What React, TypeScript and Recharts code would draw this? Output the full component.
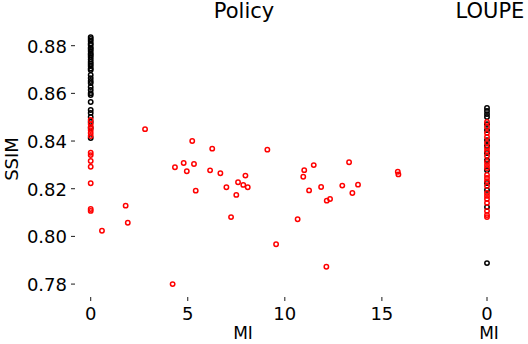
import React from "react";
import { ScatterChart, Scatter, XAxis, YAxis } from "recharts";

// Policy panel, MI > 0 and MI = 0 points
const policyRed = [
  { mi: 2.8, ssim: 0.845 }, { mi: 4.34, ssim: 0.829 }, { mi: 4.79, ssim: 0.8308 },
  { mi: 4.95, ssim: 0.8273 }, { mi: 5.23, ssim: 0.84 }, { mi: 5.32, ssim: 0.8304 },
  { mi: 5.41, ssim: 0.8192 }, { mi: 6.15, ssim: 0.8277 }, { mi: 6.26, ssim: 0.8368 },
  { mi: 6.68, ssim: 0.8265 }, { mi: 6.99, ssim: 0.8206 }, { mi: 7.5, ssim: 0.8174 },
  { mi: 7.59, ssim: 0.8227 }, { mi: 7.86, ssim: 0.8216 }, { mi: 7.97, ssim: 0.8255 },
  { mi: 8.09, ssim: 0.8206 }, { mi: 9.1, ssim: 0.8364 }, { mi: 10.95, ssim: 0.825 },
  { mi: 11.0, ssim: 0.8278 }, { mi: 11.25, ssim: 0.8193 }, { mi: 11.49, ssim: 0.8299 },
  { mi: 11.87, ssim: 0.8207 }, { mi: 12.16, ssim: 0.815 }, { mi: 12.33, ssim: 0.8157 },
  { mi: 12.96, ssim: 0.8213 }, { mi: 13.31, ssim: 0.8311 }, { mi: 13.48, ssim: 0.8182 },
  { mi: 13.77, ssim: 0.8217 }, { mi: 15.85, ssim: 0.826 }, { mi: 15.82, ssim: 0.8271 },
  { mi: 7.23, ssim: 0.8081 }, { mi: 10.66, ssim: 0.8072 }, { mi: 9.55, ssim: 0.7967 },
  { mi: 12.14, ssim: 0.7873 }, { mi: 1.8, ssim: 0.8129 }, { mi: 1.91, ssim: 0.8057 },
  { mi: 0.58, ssim: 0.8024 }, { mi: 4.22, ssim: 0.78 },
  { mi: 0, ssim: 0.8488 }, { mi: 0, ssim: 0.8471 }, { mi: 0, ssim: 0.8459 },
  { mi: 0, ssim: 0.8446 }, { mi: 0, ssim: 0.8434 }, { mi: 0, ssim: 0.8421 },
  { mi: 0, ssim: 0.8351 }, { mi: 0, ssim: 0.8341 }, { mi: 0, ssim: 0.8316 },
  { mi: 0, ssim: 0.8292 }, { mi: 0, ssim: 0.8223 }, { mi: 0, ssim: 0.8115 },
  { mi: 0, ssim: 0.8107 },
];

const policyBlackSsim = [
  0.8836, 0.8828, 0.882, 0.8809, 0.8803, 0.8792, 0.8786, 0.8778, 0.8767, 0.8761,
  0.8753, 0.8742, 0.8732, 0.8723, 0.8715, 0.8704, 0.8698, 0.8677, 0.8664, 0.8652,
  0.8643, 0.8627, 0.8614, 0.8601, 0.8593, 0.8564, 0.853, 0.8518, 0.8501, 0.848,
  0.8455, 0.8413,
];

// LOUPE panel, all at MI = 0
const loupeBlackSsim = [
  0.8539, 0.8526, 0.8513, 0.8501, 0.8471, 0.8446, 0.8404, 0.8379, 0.835, 0.832,
  0.8278, 0.8224, 0.8195, 0.8123, 0.7888,
];
const loupeRedSsim = [
  0.848, 0.8459, 0.8434, 0.8417, 0.8392, 0.8371, 0.8358, 0.8337, 0.8312, 0.8299,
  0.8287, 0.8258, 0.8245, 0.8232, 0.8211, 0.8182, 0.817, 0.8157, 0.814, 0.8107,
  0.809, 0.8081,
];

const policyTicks = [0, 5, 10, 15];
const loupeTicks = [0];
const ssimTicks = [0.78, 0.8, 0.82, 0.84, 0.86, 0.88];

const FONT = "DejaVu Sans";

const ring = (color: string) => (p: any) => (
  <circle cx={p.cx} cy={p.cy} r={2.2} fill="none" stroke={color} strokeWidth={1.5} />
);

const XTick = (props: any) => {
  const { x, y, payload } = props;
  return (
    <g>
      <line x1={x} x2={x} y1={y + 1} y2={y + 5} stroke="#000" strokeWidth={0.9} />
      <text x={x} y={y + 24} textAnchor="middle" fontSize={18} fontFamily={FONT} fill="#000">
        {payload.value}
      </text>
    </g>
  );
};

const YTick = (props: any) => {
  const { x, y, payload } = props;
  return (
    <g>
      <line x1={x - 10} x2={x - 6} y1={y} y2={y} stroke="#000" strokeWidth={0.9} />
      <text x={x - 14} y={y + 7} textAnchor="end" fontSize={18} fontFamily={FONT} fill="#000">
        {Number(payload.value).toFixed(2)}
      </text>
    </g>
  );
};

const App = () => {
  const policyBlack = policyBlackSsim.map((s) => ({ mi: 0, ssim: s }));
  const loupeBlack = loupeBlackSsim.map((s) => ({ mi: 0, ssim: s }));
  const loupeRed = loupeRedSsim.map((s) => ({ mi: 0, ssim: s }));

  return (
    <div style={{ position: "absolute", left: 0, top: 0, width: 528, height: 344, background: "#fff" }}>
      <div style={{ position: "absolute", left: 0, top: 0 }}>
        <ScatterChart width={411} height={344} margin={{ top: 29, right: 0, bottom: 0, left: 0 }}>
          <XAxis
            type="number"
            dataKey="mi"
            domain={[-0.5, 16.5]}
            ticks={policyTicks}
            height={48}
            axisLine={false}
            tickLine={false}
            tickSize={0}
            tickMargin={0}
            tick={<XTick />}
            interval={0}
          />
          <YAxis
            type="number"
            dataKey="ssim"
            domain={[0.775, 0.887]}
            ticks={ssimTicks}
            width={81}
            axisLine={false}
            tickLine={false}
            tickSize={0}
            tickMargin={0}
            tick={<YTick />}
            interval={0}
          />
          <Scatter data={policyBlack} shape={ring("#000")} isAnimationActive={false} />
          <Scatter data={policyRed} shape={ring("#ff0000")} isAnimationActive={false} />
          <text x={244} y={18} textAnchor="middle" fontSize={21} fontFamily={FONT}>Policy</text>
          <text x={243} y={339} textAnchor="middle" fontSize={17} fontFamily={FONT}>MI</text>
          <text x={18} y={159} textAnchor="middle" fontSize={18} fontFamily={FONT} transform="rotate(-90 18 159)">SSIM</text>
        </ScatterChart>
      </div>
      <div style={{ position: "absolute", left: 447, top: 0 }}>
        <ScatterChart width={80} height={344} margin={{ top: 29, right: 0, bottom: 0, left: 0 }}>
          <XAxis
            type="number"
            dataKey="mi"
            domain={[-1, 1]}
            ticks={loupeTicks}
            height={48}
            axisLine={false}
            tickLine={false}
            tickSize={0}
            tickMargin={0}
            tick={<XTick />}
            interval={0}
          />
          <YAxis type="number" dataKey="ssim" domain={[0.775, 0.887]} hide />
          <Scatter data={loupeBlack} shape={ring("#000")} isAnimationActive={false} />
          <Scatter data={loupeRed} shape={ring("#ff0000")} isAnimationActive={false} />
          <text x={43} y={18} textAnchor="middle" fontSize={21} fontFamily={FONT}>LOUPE</text>
          <text x={42} y={339} textAnchor="middle" fontSize={17} fontFamily={FONT}>MI</text>
        </ScatterChart>
      </div>
    </div>
  );
};

export default App;
